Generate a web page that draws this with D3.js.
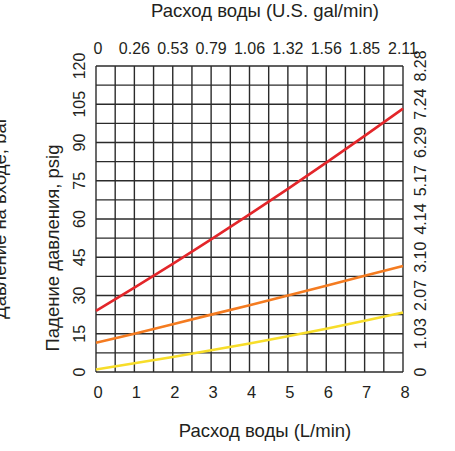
<!DOCTYPE html>
<html><head><meta charset="utf-8">
<script src="https://cdn.jsdelivr.net/npm/d3@7"></script>
<style>body{margin:0;background:#fff}svg{display:block}text{font-family:"Liberation Sans",Arial,sans-serif;fill:#231f20}</style>
</head><body>
<svg id="c" width="455" height="451"></svg>
<script>
const flowLmin = [0,1,2,3,4,5,6,7,8];
const redPsig = [24,33.1,42.4,52,61.8,71.8,82.1,92.6,103.3];
const orangePsig = [11.5,15,18.7,22.5,26.2,30,33.8,37.7,41.6];
const yellowPsig = [1,3.4,5.9,8.5,11.2,14.0,17.0,20.1,23.3];
const bottomTicks = [0,1,2,3,4,5,6,7,8];
const topTickLabels = ["0","0.26","0.53","0.79","1.06","1.32","1.56","1.85","2.11"];
const leftTicks = [0,15,30,45,60,75,90,105,120];
const rightTickLabels = ["0","1.03","2.07","3.10","4.14","5.17","6.29","7.24","8.28"];
const seriesColors = ["#e3262a","#f47b20","#f7dd2a"];

const svg = d3.select("#c");
const L=96, T=66, W=307, H=306;
const x = d3.scaleLinear().domain([0,8]).range([L,L+W]);
const y = d3.scaleLinear().domain([0,120]).range([T+H,T]);
const g = svg.append("g");
const gridColor="#2b2b2b";
// grid
d3.range(0,8.01,0.5).forEach(v=>{
  g.append("line").attr("x1",x(v)).attr("x2",x(v)).attr("y1",T).attr("y2",T+H)
   .attr("stroke",gridColor).attr("stroke-width",1.4);
});
d3.range(0,120.01,7.5).forEach(v=>{
  g.append("line").attr("y1",y(v)).attr("y2",y(v)).attr("x1",L).attr("x2",L+W)
   .attr("stroke",gridColor).attr("stroke-width",1.4);
});
// series
const line = d3.line().x((d,i)=>x(flowLmin[i])).y(d=>y(d));
[redPsig,orangePsig,yellowPsig].forEach((s,k)=>{
  g.append("path").attr("d",line(s)).attr("fill","none").attr("stroke",seriesColors[k]).attr("stroke-width",2.6);
});
// bottom ticks
bottomTicks.forEach(v=>{
  svg.append("text").attr("x",x(v)+2).attr("y",392).attr("text-anchor","middle")
    .attr("dominant-baseline","central").attr("font-size",16.5).text(v);
});
// top ticks
topTickLabels.forEach((t,i)=>{
  svg.append("text").attr("x",x(bottomTicks[i])+(i===0?2:0)).attr("y",48).attr("text-anchor","middle")
    .attr("dominant-baseline","central").attr("font-size",16).text(t);
});
// left ticks
leftTicks.forEach(v=>{
  svg.append("text").attr("transform",`translate(79,${y(v)}) rotate(-90)`).attr("text-anchor","middle")
    .attr("dominant-baseline","central").attr("font-size",16).text(v);
});
// right ticks
rightTickLabels.forEach((t,i)=>{
  svg.append("text").attr("transform",`translate(420,${y(leftTicks[i])}) rotate(-90)`).attr("text-anchor","middle")
    .attr("dominant-baseline","central").attr("font-size",16).text(t);
});
// titles
svg.append("text").attr("x",265).attr("y",10).attr("text-anchor","middle").attr("dominant-baseline","central")
  .attr("font-size",18.5).text("Расход воды (U.S. gal/min)");
svg.append("text").attr("x",265).attr("y",430).attr("text-anchor","middle").attr("dominant-baseline","central")
  .attr("font-size",18.5).text("Расход воды (L/min)");
svg.append("text").attr("transform","translate(52,248) rotate(-90)").attr("text-anchor","middle")
  .attr("dominant-baseline","central").attr("font-size",18.5).text("Падение давления, psig");
svg.append("text").attr("transform","translate(-1,218) rotate(-90)").attr("text-anchor","middle")
  .attr("dominant-baseline","central").attr("font-size",18.5).text("Давление на входе, bar");
</script>
</body></html>
